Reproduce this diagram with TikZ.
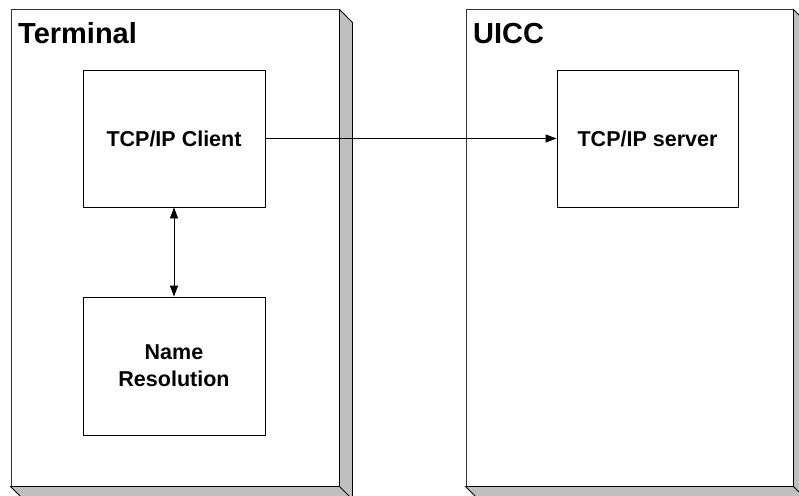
\documentclass[tikz,border=0pt]{standalone}
\usepackage{fontspec}
\setmainfont{Liberation Sans}
\usetikzlibrary{arrows.meta,calc}
\begin{document}
\begin{tikzpicture}[x=1pt,y=-1pt,
  frame/.style={draw=black!80, line width=1pt, fill=white, inner sep=0pt},
  shade3d/.style={draw=black, line width=0.8pt, fill=black!25, line join=miter},
  box/.style={draw=black, line width=0.8pt, fill=white, minimum width=182pt, minimum height=137pt, inner sep=0pt, align=center, font=\fontsize{21.5}{27}\selectfont\bfseries},
  title/.style={anchor=base west, inner sep=0pt, font=\fontsize{29}{34}\selectfont\bfseries},
  conn/.style={draw=black, line width=0.8pt},
  tip/.tip={Triangle[length=11pt,width=8pt]}]
\useasboundingbox (0,0) rectangle (799,495);
\clip (0,0) rectangle (799,495);
% frames
\node[frame, minimum width=328pt, minimum height=476pt] (T) at (175,248) {};
\node[frame, minimum width=327pt, minimum height=476pt] (U) at (629.5,248) {};
\foreach \f in {T,U}{
  \draw[shade3d] (\f.north east) -- ($(\f.north east)+(13,13)$) -- ($(\f.south east)+(13,13)$)
     -- ($(\f.south west)+(13,13)$) -- (\f.south west) -- (\f.south east) -- cycle;
  \draw[shade3d] (\f.south east) -- ($(\f.south east)+(13,13)$);
}
% titles
\node[title] (tt) at (18,44) {Terminal};
\node[title] (ut) at (473,44) {UICC};
% inner boxes
\node[box] (client) at (174,138.5) {TCP/IP Client};
\node[box, minimum height=138pt] (name) at (174,366) {Name\\Resolution};
\node[box, minimum width=181pt] (server) at (647.5,138.5) {TCP/IP server};
% connectors
\draw[conn, -tip] (client.east) -- (server.west);
\draw[conn, tip-tip] (client.south) -- (name.north);
\end{tikzpicture}
\end{document}
